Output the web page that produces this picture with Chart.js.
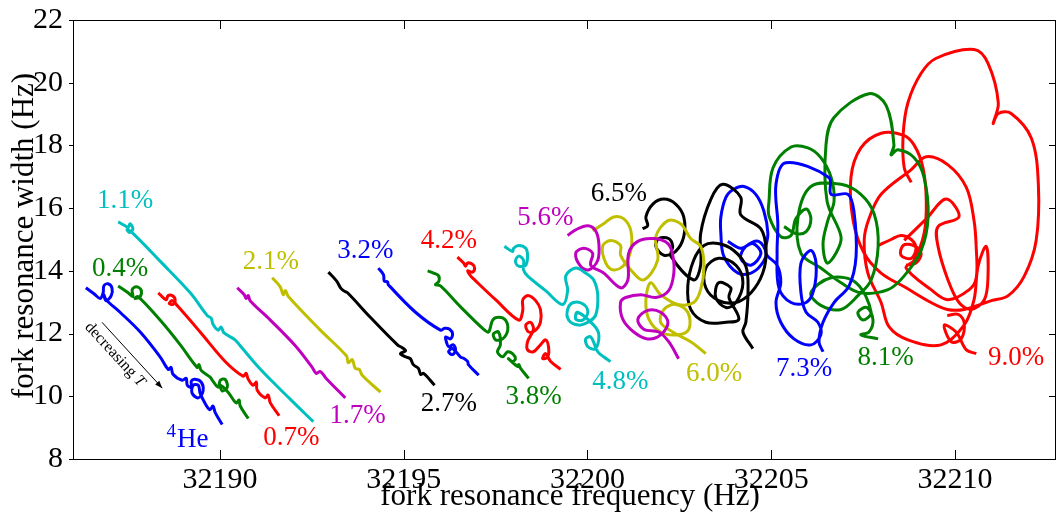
<!DOCTYPE html>
<html lang="en">
<head>
<meta charset="UTF-8">
<title>Fork resonance width vs frequency</title>
<script src="https://cdn.jsdelivr.net/npm/chart.js@4.4.0/dist/chart.umd.min.js"></script>
<style>
  html, body { margin: 0; padding: 0; background: #fff; }
  #wrap { width: 1057px; height: 521px; position: relative; }
</style>
</head>
<body>
<div id="wrap"><canvas id="forkChart"></canvas></div>
<script>
// axis ticks
const xTicks = [32190, 32195, 32200, 32205, 32210];
const yTicks = [8, 10, 12, 14, 16, 18, 20, 22];

// one pair of arrays per concentration: frequency (Hz), width (Hz)
const fHe = [32186.35, 32186.57, 32186.74, 32186.82, 32186.84, 32186.95, 32187.06, 32187.04, 32186.90, 32186.84, 32186.90, 32187.28, 32187.83, 32188.37, 32188.59, 32188.67, 32188.72, 32188.97, 32189.08, 32189.11, 32189.22, 32189.22, 32189.32, 32189.49, 32189.54, 32189.41, 32189.24, 32189.27, 32189.41, 32189.46, 32189.60, 32189.73, 32189.81, 32189.87, 32190.06];
const wHe = [13.46, 13.27, 13.12, 13.30, 13.52, 13.59, 13.46, 13.21, 13.05, 13.24, 13.08, 12.68, 12.05, 11.26, 10.86, 10.92, 10.70, 10.51, 10.57, 10.35, 10.29, 10.48, 10.54, 10.45, 10.17, 9.95, 10.10, 10.35, 10.35, 10.10, 9.76, 9.57, 9.69, 9.48, 9.10];

const f04 = [32187.23, 32187.50, 32187.63, 32187.61, 32187.72, 32187.85, 32187.83, 32187.69, 32187.77, 32188.37, 32188.92, 32189.38, 32189.43, 32189.49, 32189.73, 32189.81, 32189.95, 32190.01, 32190.14, 32190.20, 32190.06, 32190.01, 32190.22, 32190.44, 32190.52, 32190.55, 32190.77];
const w04 = [13.52, 13.30, 13.18, 13.40, 13.49, 13.40, 13.18, 13.12, 13.18, 12.43, 11.64, 10.92, 11.01, 10.82, 10.61, 10.48, 10.29, 10.51, 10.54, 10.29, 10.17, 10.35, 10.13, 9.79, 9.88, 9.69, 9.29];

const f07 = [32188.32, 32188.53, 32188.59, 32188.70, 32188.78, 32188.72, 32188.62, 32188.70, 32188.86, 32189.46, 32190.14, 32190.63, 32190.71, 32190.77, 32190.90, 32190.99, 32191.01, 32191.23, 32191.31, 32191.37, 32191.61];
const w07 = [13.30, 13.08, 13.21, 13.21, 13.08, 12.93, 12.96, 13.05, 12.86, 12.05, 11.11, 10.64, 10.73, 10.54, 10.35, 10.45, 10.20, 9.95, 10.04, 9.79, 9.38];

const f11 = [32187.23, 32187.42, 32187.50, 32187.55, 32187.63, 32187.55, 32187.47, 32187.61, 32188.37, 32189.19, 32189.65, 32189.76, 32189.81, 32189.95, 32190.03, 32190.11, 32190.41, 32190.55, 32191.10, 32191.91, 32192.54];
const w11 = [15.56, 15.44, 15.38, 15.50, 15.34, 15.22, 15.31, 15.22, 14.31, 13.30, 12.58, 12.49, 12.30, 12.11, 12.21, 12.02, 11.80, 11.61, 10.86, 9.91, 9.19];

const f17 = [32190.47, 32190.66, 32190.71, 32190.77, 32190.82, 32191.37, 32192.05, 32192.51, 32192.62, 32192.73, 32192.89, 32193.41];
const w17 = [13.46, 13.24, 13.12, 13.21, 13.05, 12.43, 11.61, 10.92, 10.73, 10.79, 10.57, 9.95];

const f21 = [32191.42, 32191.64, 32191.72, 32191.78, 32191.86, 32192.73, 32193.44, 32193.49, 32193.60, 32193.68, 32193.79, 32193.87, 32194.37];
const w21 = [13.78, 13.49, 13.24, 13.37, 13.18, 12.11, 11.29, 11.07, 11.17, 10.89, 10.86, 10.67, 10.13];

const f27 = [32192.95, 32193.17, 32193.28, 32193.36, 32193.47, 32194.09, 32194.83, 32194.96, 32195.05, 32194.91, 32195.05, 32195.18, 32195.26, 32195.40, 32195.46, 32195.54, 32195.84];
const w27 = [13.96, 13.68, 13.46, 13.37, 13.30, 12.52, 11.64, 11.55, 11.45, 11.36, 11.26, 11.20, 11.01, 10.89, 10.70, 10.73, 10.35];

const f32 = [32194.31, 32194.45, 32194.47, 32194.56, 32194.58, 32195.32, 32196.00, 32196.11, 32196.25, 32196.33, 32196.27, 32196.14, 32196.16, 32196.22, 32196.35, 32196.41, 32196.33, 32196.22, 32196.33, 32196.54, 32196.65, 32196.74, 32196.76, 32197.04];
const w32 = [14.09, 13.87, 13.68, 13.65, 13.56, 12.68, 12.11, 12.17, 12.14, 11.99, 11.83, 11.89, 11.74, 11.58, 11.64, 11.48, 11.33, 11.42, 11.52, 11.26, 11.20, 11.11, 11.01, 10.67];

const f38 = [32195.65, 32195.81, 32195.95, 32195.95, 32195.86, 32196.00, 32196.54, 32197.17, 32197.31, 32197.42, 32197.58, 32197.77, 32197.83, 32197.69, 32197.50, 32197.44, 32197.58, 32197.63, 32197.55, 32197.69, 32197.83, 32197.96, 32198.04, 32197.96, 32197.85, 32198.10, 32198.13, 32198.18, 32198.40];
const w38 = [14.00, 13.93, 13.84, 13.65, 13.56, 13.52, 12.86, 12.14, 12.05, 12.43, 12.52, 12.43, 12.11, 11.83, 11.80, 11.99, 12.05, 11.64, 11.42, 11.26, 11.42, 11.36, 11.20, 11.11, 11.20, 10.95, 11.01, 10.89, 10.57];

const f42 = [32196.46, 32196.63, 32196.68, 32196.74, 32196.87, 32196.93, 32196.87, 32196.74, 32196.82, 32196.93, 32197.50, 32198.13, 32198.24, 32198.24, 32198.40, 32198.59, 32198.72, 32198.72, 32198.59, 32198.40, 32198.32, 32198.45, 32198.53, 32198.37, 32198.37, 32198.53, 32198.72, 32198.86, 32198.94, 32198.92, 32198.78, 32198.86, 32199.00, 32199.27];
const w42 = [14.44, 14.25, 14.15, 14.25, 14.21, 14.09, 13.96, 14.00, 13.84, 13.71, 13.08, 12.43, 12.74, 13.08, 13.21, 13.05, 12.77, 12.36, 12.11, 12.05, 12.27, 12.36, 12.14, 11.74, 11.48, 11.42, 11.64, 11.80, 11.58, 11.26, 11.20, 11.36, 11.11, 10.86];

const f48 = [32197.74, 32197.96, 32197.99, 32198.13, 32198.32, 32198.37, 32198.32, 32198.13, 32198.04, 32198.13, 32198.26, 32198.26, 32198.37, 32198.86, 32199.32, 32199.46, 32199.41, 32199.68, 32199.95, 32200.17, 32200.28, 32200.22, 32200.01, 32199.76, 32199.49, 32199.46, 32199.62, 32199.90, 32200.01, 32199.87, 32199.68, 32199.73, 32200.17, 32200.31, 32200.22, 32200.01, 32199.95, 32200.09, 32200.28, 32200.44, 32200.63];
const w48 = [14.78, 14.62, 14.72, 14.81, 14.72, 14.47, 14.18, 14.15, 14.31, 14.47, 14.34, 14.03, 13.84, 13.37, 12.93, 13.37, 13.84, 14.09, 13.93, 13.71, 13.21, 12.58, 12.36, 12.27, 12.43, 12.77, 12.99, 12.93, 12.68, 12.43, 12.46, 12.68, 12.27, 11.96, 11.52, 11.58, 11.83, 11.89, 11.42, 11.26, 11.11];

const f56 = [32199.46, 32199.68, 32200.01, 32200.22, 32200.31, 32200.28, 32200.03, 32199.81, 32199.68, 32199.90, 32200.14, 32200.09, 32200.44, 32200.90, 32201.10, 32201.12, 32201.37, 32201.80, 32202.19, 32202.32, 32202.35, 32202.21, 32201.86, 32201.45, 32201.04, 32200.90, 32200.96, 32201.26, 32201.64, 32201.99, 32202.19, 32201.99, 32201.64, 32201.37, 32201.53, 32201.94, 32202.21, 32202.48];
const w56 = [15.13, 15.31, 15.44, 15.28, 14.87, 14.34, 14.03, 14.15, 14.56, 14.72, 14.56, 14.18, 13.93, 13.46, 13.71, 14.56, 14.94, 15.03, 14.87, 14.50, 13.93, 13.37, 13.15, 13.24, 13.15, 12.99, 12.46, 12.05, 11.83, 11.96, 12.36, 12.68, 12.74, 12.46, 12.14, 12.05, 11.74, 11.20];

const f60 = [32200.14, 32200.44, 32200.71, 32200.99, 32201.18, 32201.18, 32200.99, 32200.71, 32200.50, 32200.41, 32200.63, 32200.90, 32200.90, 32201.18, 32201.53, 32201.91, 32201.86, 32202.19, 32202.54, 32202.81, 32203.08, 32203.17, 32203.08, 32202.89, 32202.46, 32201.99, 32201.72, 32201.59, 32201.67, 32201.99, 32202.46, 32202.76, 32202.73, 32202.40, 32202.08, 32201.99, 32202.32, 32202.81, 32203.22];
const w60 = [15.28, 15.50, 15.72, 15.66, 15.28, 14.65, 14.18, 14.03, 14.25, 14.78, 14.97, 14.81, 14.50, 14.03, 13.71, 14.34, 15.09, 15.60, 15.50, 15.03, 14.78, 14.15, 13.40, 12.99, 12.93, 13.24, 13.62, 13.08, 12.46, 12.05, 11.96, 12.14, 12.68, 12.93, 12.77, 12.36, 12.05, 11.74, 11.36];

const f65 = [32201.50, 32201.64, 32201.59, 32201.78, 32202.08, 32202.40, 32202.62, 32202.62, 32202.40, 32202.08, 32201.86, 32201.94, 32202.21, 32202.32, 32202.27, 32202.89, 32203.08, 32203.08, 32203.36, 32203.68, 32204.17, 32204.17, 32204.72, 32204.86, 32204.77, 32204.45, 32204.04, 32203.57, 32203.22, 32203.22, 32203.57, 32204.04, 32204.23, 32204.04, 32203.77, 32203.49, 32203.57, 32203.90, 32203.85, 32204.12, 32203.77, 32203.22, 32202.81, 32202.73, 32202.89, 32203.17, 32203.55, 32203.98, 32204.31, 32204.37, 32204.31, 32204.23, 32204.50];
const w65 = [15.34, 15.44, 15.72, 16.13, 16.29, 16.13, 15.72, 15.09, 14.62, 14.50, 14.78, 15.03, 15.03, 14.78, 14.47, 13.71, 14.18, 15.19, 16.29, 16.76, 16.35, 15.79, 15.34, 14.65, 13.93, 13.30, 12.99, 13.05, 13.46, 14.09, 14.40, 14.18, 13.62, 12.99, 12.83, 13.15, 13.62, 13.46, 13.15, 12.46, 12.36, 12.36, 12.77, 13.52, 14.34, 14.81, 14.87, 14.65, 14.15, 13.40, 12.36, 12.05, 11.52];

const f73 = [32203.82, 32204.17, 32204.50, 32204.72, 32204.45, 32204.17, 32204.31, 32204.66, 32204.86, 32204.72, 32204.45, 32204.09, 32203.71, 32203.63, 32203.63, 32203.77, 32203.98, 32204.26, 32204.58, 32204.80, 32204.91, 32204.86, 32205.16, 32205.26, 32205.13, 32205.26, 32205.62, 32206.08, 32206.35, 32206.27, 32205.95, 32205.81, 32205.81, 32206.08, 32206.22, 32206.16, 32205.95, 32205.54, 32205.21, 32205.16, 32205.18, 32205.13, 32205.40, 32206.57, 32206.63, 32207.09, 32207.25, 32207.31, 32207.12, 32206.71, 32206.41, 32206.30, 32206.41];
const w73 = [14.94, 14.72, 14.87, 14.56, 14.18, 14.40, 14.78, 14.94, 14.56, 14.18, 13.93, 13.93, 14.47, 15.19, 15.72, 16.35, 16.60, 16.69, 16.44, 15.91, 15.19, 14.56, 14.18, 13.62, 12.99, 12.36, 11.83, 11.64, 11.96, 12.36, 12.68, 13.30, 14.25, 14.65, 14.25, 13.40, 12.99, 12.99, 13.46, 14.56, 15.50, 16.76, 17.45, 16.98, 16.44, 16.44, 15.91, 14.47, 13.52, 12.99, 12.36, 11.74, 11.42];

const f81 = [32205.35, 32205.67, 32205.95, 32206.08, 32205.95, 32205.67, 32205.54, 32205.26, 32204.94, 32204.94, 32205.05, 32205.54, 32206.00, 32206.35, 32206.63, 32206.71, 32206.54, 32206.41, 32206.52, 32206.76, 32206.90, 32206.52, 32206.49, 32206.71, 32207.66, 32208.13, 32208.34, 32208.26, 32208.45, 32208.89, 32209.16, 32209.27, 32209.08, 32208.62, 32208.18, 32207.44, 32206.90, 32206.35, 32205.81, 32205.73, 32206.08, 32206.90, 32207.44, 32207.80, 32207.91, 32207.72, 32207.36, 32206.90, 32206.35, 32206.08, 32206.63, 32207.31, 32207.72, 32207.50, 32207.36, 32207.61, 32207.77, 32207.66, 32207.44, 32207.91];
const w81 = [15.41, 15.19, 15.25, 15.66, 15.97, 15.66, 15.13, 15.09, 15.75, 16.22, 17.29, 17.95, 17.92, 17.61, 16.98, 16.22, 15.60, 14.87, 14.25, 14.56, 15.09, 16.22, 18.01, 18.89, 19.65, 19.27, 18.01, 17.70, 17.86, 17.61, 16.98, 15.72, 14.65, 13.84, 13.40, 13.30, 13.62, 14.09, 14.56, 15.72, 16.69, 16.76, 16.44, 15.82, 14.78, 13.71, 13.21, 12.77, 12.90, 13.30, 13.78, 13.62, 12.68, 12.43, 12.68, 12.83, 12.43, 12.05, 11.96, 11.83];

// null = break in the recorded trace
const f90 = [32207.91, 32208.26, 32208.53, 32208.81, 32208.94, 32208.81, 32208.53, 32208.59, 32208.86, 32209.08, 32208.94, 32208.67, null, 32208.81, 32208.62, 32208.59, 32208.72, 32209.08, 32209.49, 32210.52, 32210.90, 32211.18, 32211.04, 32211.18, 32211.53, 32212.08, 32212.27, 32212.21, 32211.89, 32211.45, 32210.99, 32210.25, 32209.79, 32209.35, 32208.67, 32207.99, 32207.53, 32207.23, 32207.17, 32207.44, 32207.99, 32208.59, 32208.89, 32209.13, 32209.22, 32209.16, 32208.89, 32208.67, 32209.35, 32209.81, 32210.39, 32210.58, 32210.58, 32210.52, 32210.31, 32209.81, 32209.22, 32208.81, 32207.99, 32207.66, 32207.53, 32207.63, 32207.99, 32208.21, 32208.72, 32209.62, 32210.25, 32210.52, 32210.63, 32210.85, 32210.90, 32210.80, 32210.44, 32210.11, 32209.81, 32209.54, 32209.54, 32210.11, 32209.76, 32209.22, 32208.62, null, 32209.79, 32210.09, 32210.25, 32210.17, 32209.90, 32209.71, 32210.03, 32210.31, 32210.58];
const w90 = [14.81, 15.00, 15.13, 15.00, 14.72, 14.40, 14.50, 14.81, 14.81, 14.56, 14.25, 14.18, null, 16.82, 17.29, 18.33, 19.36, 20.30, 20.78, 21.06, 20.62, 19.36, 18.70, 19.02, 19.02, 18.23, 16.76, 14.97, 13.84, 13.21, 13.05, 12.77, 12.77, 12.99, 13.46, 13.93, 14.56, 15.60, 16.98, 17.92, 18.39, 18.33, 18.01, 17.29, 16.22, 15.19, 14.34, 14.09, 13.40, 13.08, 13.40, 13.78, 14.72, 15.60, 16.66, 17.38, 17.64, 17.23, 16.44, 15.66, 14.97, 13.93, 12.99, 12.21, 11.80, 11.64, 12.27, 13.08, 14.15, 14.78, 13.84, 13.08, 12.77, 12.99, 13.71, 14.78, 15.41, 15.72, 16.29, 15.66, 14.97, null, 12.58, 12.61, 12.36, 11.83, 11.74, 12.27, 12.05, 11.48, 11.36];

// text labels next to each trace
const labelText = ['1.1%', '0.4%', '2.1%', '3.2%', '4.2%', '5.6%', '6.5%', '1.7%', '0.7%', 'He', '2.7%', '3.8%', '4.8%', '6.0%', '7.3%', '8.1%', '9.0%'];
const labelF = [32186.65, 32186.52, 32190.62, 32193.19, 32195.46, 32198.09, 32200.09, 32192.98, 32191.18, 32188.83, 32195.46, 32197.77, 32200.13, 32202.68, 32205.13, 32207.35, 32210.90];
const labelW = [16.00, 13.84, 14.07, 14.40, 14.72, 15.45, 16.23, 9.16, 8.44, 8.38, 9.54, 9.75, 10.22, 10.48, 10.64, 11.00, 11.00];

const BLUE = '#0000ff', GREEN = '#008000', RED = '#ff0000', CYAN = '#00bfbf',
      MAGENTA = '#bf00bf', YELLOW = '#bfbf00', BLACK = '#000000';
const labelColor = [CYAN, GREEN, YELLOW, BLUE, RED, MAGENTA, BLACK, MAGENTA, RED, BLUE, BLACK, GREEN, CYAN, YELLOW, BLUE, GREEN, RED];

// "decreasing T" arrow
const arrowF = [32186.79, 32188.43];
const arrowW = [12.36, 10.26];
const arrowTextAt = [32187.14, 11.33];

const SERIF = "'Liberation Serif', 'Times New Roman', serif";

const traces = [
    [fHe, wHe, BLUE], [f04, w04, GREEN], [f07, w07, RED], [f11, w11, CYAN],
    [f17, w17, MAGENTA], [f21, w21, YELLOW], [f27, w27, BLACK], [f32, w32, BLUE],
    [f38, w38, GREEN], [f42, w42, RED], [f48, w48, CYAN], [f56, w56, MAGENTA],
    [f60, w60, YELLOW], [f65, w65, BLACK], [f73, w73, BLUE], [f81, w81, GREEN],
    [f90, w90, RED]
];

function pairUp(fs, ws) {
    const pts = [];
    for (let i = 0; i < Math.min(fs.length, ws.length); i++) {
        pts.push({x: fs[i], y: ws[i]});
    }
    return pts;
}

const decorations = {
    id: 'decorations',
    afterDraw(chart) {
        const ctx = chart.ctx;
        const a = chart.chartArea;
        const x = chart.scales.x, y = chart.scales.y;
        ctx.save();

        // box and inward ticks
        ctx.strokeStyle = '#000';
        ctx.lineWidth = 1;
        ctx.strokeRect(a.left + 0.5, a.top + 0.5, a.right - a.left - 1, a.bottom - a.top);
        ctx.beginPath();
        xTicks.forEach(v => {
            const px = Math.round(x.getPixelForValue(v)) + 0.5;
            ctx.moveTo(px, a.bottom); ctx.lineTo(px, a.bottom - 9);
            ctx.moveTo(px, a.top); ctx.lineTo(px, a.top + 9);
        });
        yTicks.forEach(v => {
            const py = Math.round(y.getPixelForValue(v)) + 0.5;
            ctx.moveTo(a.left - 4, py); ctx.lineTo(a.left, py);
            ctx.moveTo(a.right, py); ctx.lineTo(a.right - 7, py);
        });
        ctx.stroke();

        // axis titles
        ctx.fillStyle = '#000';
        ctx.font = '31px ' + SERIF;
        ctx.textAlign = 'center';
        ctx.textBaseline = 'alphabetic';
        ctx.fillText('fork resonance frequency (Hz)', 570, 505);
        ctx.save();
        ctx.translate(33, 236);
        ctx.rotate(-Math.PI / 2);
        ctx.fillText('fork resonance width (Hz)', 0, 0);
        ctx.restore();

        // concentration labels
        ctx.textAlign = 'left';
        ctx.font = '27px ' + SERIF;
        labelText.forEach((t, i) => {
            ctx.fillStyle = labelColor[i];
            ctx.fillText(t, x.getPixelForValue(labelF[i]), y.getPixelForValue(labelW[i]));
        });
        // superscript mass number for 4He
        const heIdx = labelText.indexOf('He');
        ctx.fillStyle = labelColor[heIdx];
        ctx.font = '19px ' + SERIF;
        const hx = x.getPixelForValue(labelF[heIdx]);
        const hy = y.getPixelForValue(labelW[heIdx]);
        ctx.textAlign = 'right';
        ctx.fillText('4', hx - 1, hy - 10);

        // decreasing T arrow
        const x0 = x.getPixelForValue(arrowF[0]), y0 = y.getPixelForValue(arrowW[0]);
        const x1 = x.getPixelForValue(arrowF[1]), y1 = y.getPixelForValue(arrowW[1]);
        const ang = Math.atan2(y1 - y0, x1 - x0);
        ctx.strokeStyle = '#000';
        ctx.lineWidth = 1;
        ctx.beginPath();
        ctx.moveTo(x0, y0); ctx.lineTo(x1, y1);
        ctx.stroke();
        ctx.fillStyle = '#000';
        ctx.beginPath();
        ctx.moveTo(x1, y1);
        ctx.lineTo(x1 - 8 * Math.cos(ang - 0.35), y1 - 8 * Math.sin(ang - 0.35));
        ctx.lineTo(x1 - 8 * Math.cos(ang + 0.35), y1 - 8 * Math.sin(ang + 0.35));
        ctx.closePath();
        ctx.fill();

        ctx.save();
        ctx.translate(x.getPixelForValue(arrowTextAt[0]), y.getPixelForValue(arrowTextAt[1]));
        ctx.rotate(ang);
        ctx.textBaseline = 'middle';
        ctx.textAlign = 'left';
        ctx.font = '16px ' + SERIF;
        const w1 = ctx.measureText('decreasing ').width;
        ctx.font = 'italic 16px ' + SERIF;
        const w2 = ctx.measureText('T').width;
        const start = -(w1 + w2) / 2;
        ctx.font = '16px ' + SERIF;
        ctx.fillText('decreasing ', start, 0);
        ctx.font = 'italic 16px ' + SERIF;
        ctx.fillText('T', start + w1, 0);
        ctx.restore();

        ctx.restore();
    }
};

new Chart(document.getElementById('forkChart'), {
    type: 'scatter',
    data: {
        datasets: traces.map(t => ({
            data: pairUp(t[0], t[1]),
            showLine: true,
            borderColor: t[2],
            backgroundColor: t[2],
            borderWidth: 3,
            pointRadius: 0,
            tension: 0.35,
            spanGaps: false,
            fill: false
        }))
    },
    options: {
        responsive: true,
        maintainAspectRatio: false,
        animation: false,
        layout: { padding: { top: 13, right: 1, left: 0, bottom: 0 } },
        plugins: { legend: { display: false }, tooltip: { enabled: false } },
        scales: {
            x: {
                type: 'linear',
                min: 32186,
                max: 32212.75,
                grid: { display: false },
                border: { display: false },
                afterBuildTicks: s => { s.ticks = xTicks.map(v => ({value: v})); },
                afterFit: s => { s.height = 62; },
                ticks: {
                    color: '#000',
                    font: { family: SERIF, size: 30 },
                    padding: -5,
                    maxRotation: 0,
                    callback: v => String(v)
                }
            },
            y: {
                min: 8,
                max: 22,
                grid: { display: false },
                border: { display: false },
                afterBuildTicks: s => { s.ticks = yTicks.map(v => ({value: v})); },
                afterFit: s => { s.width = 73; },
                ticks: {
                    color: '#000',
                    font: { family: SERIF, size: 30 },
                    padding: 2,
                    callback: v => String(v)
                }
            }
        }
    },
    plugins: [decorations]
});
</script>
</body>
</html>
